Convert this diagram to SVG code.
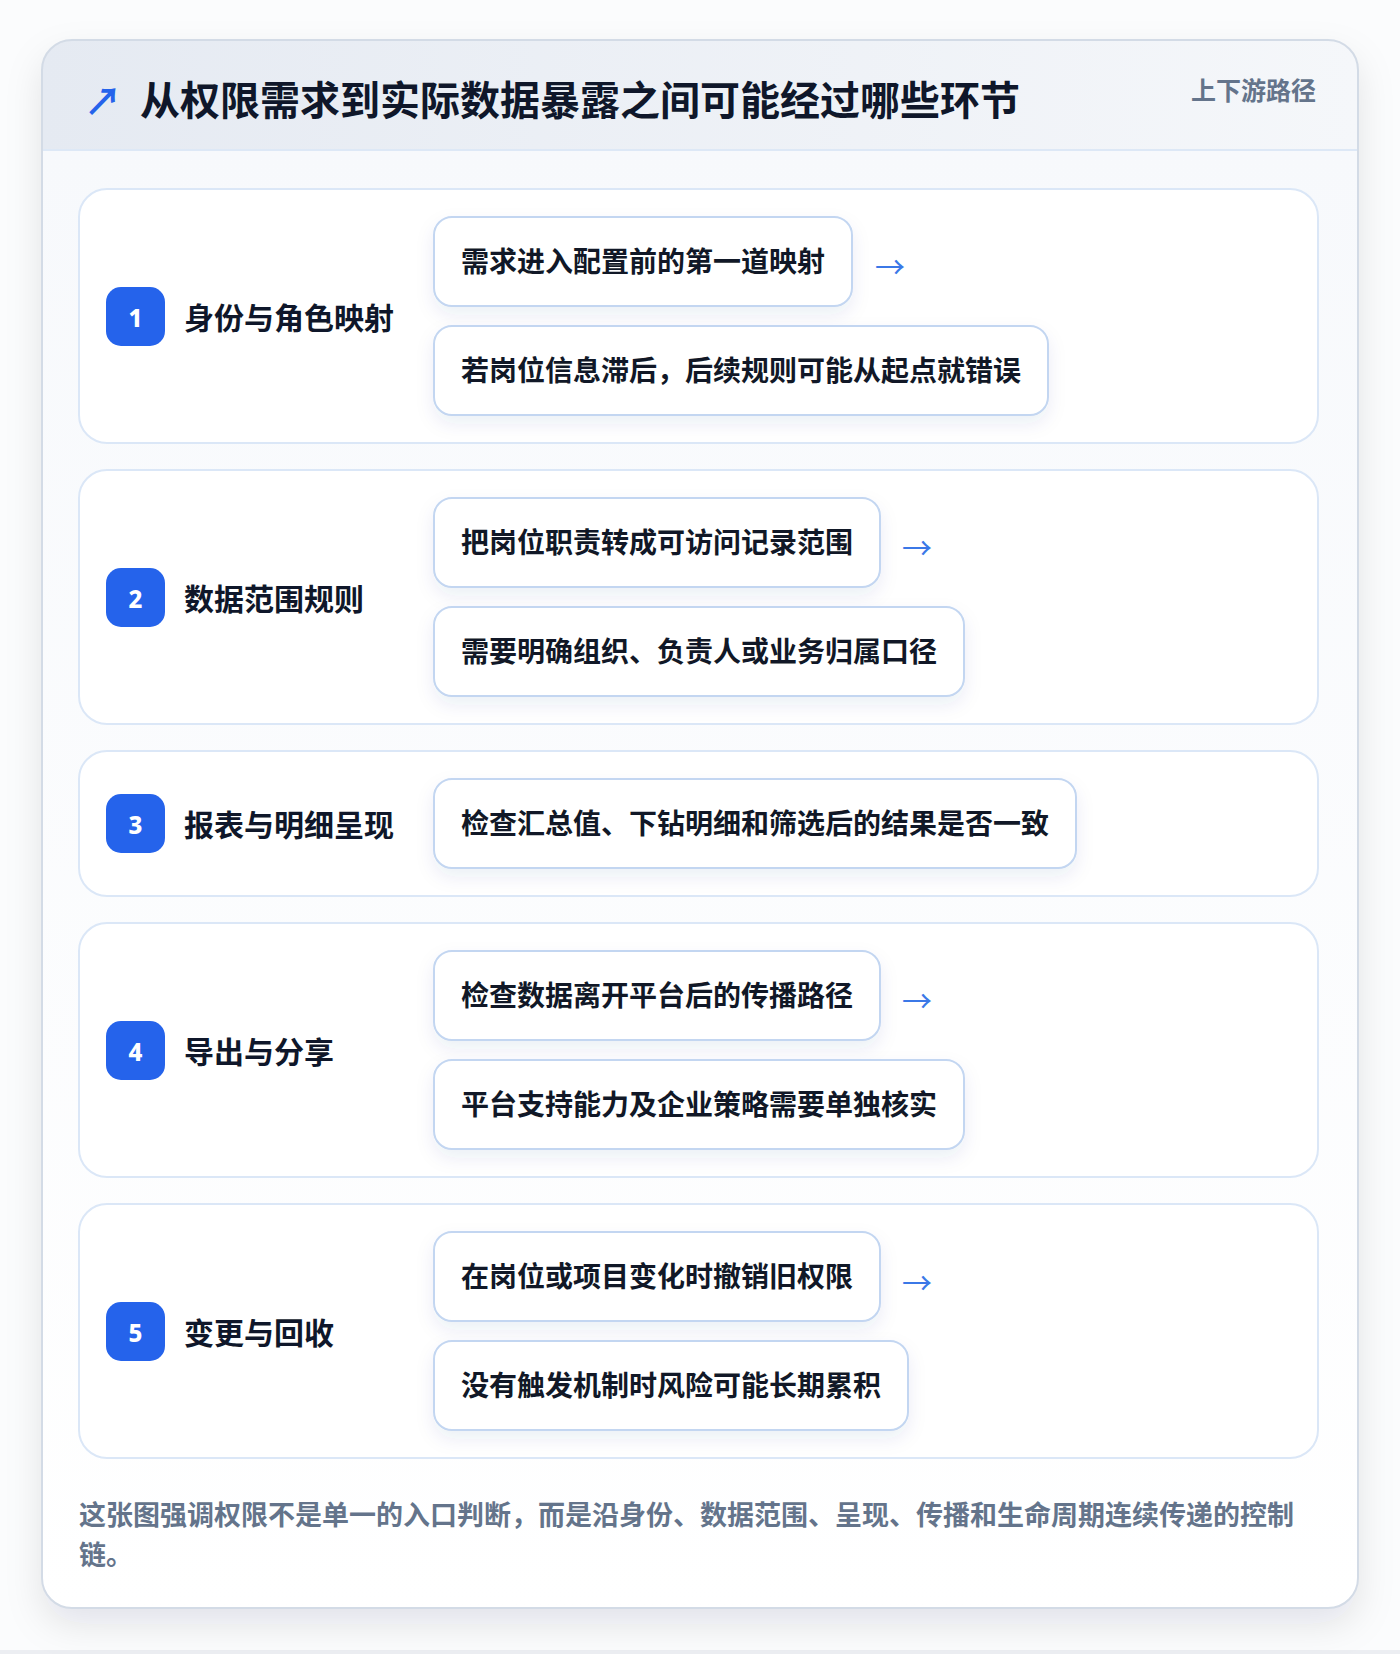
<svg xmlns="http://www.w3.org/2000/svg" width="1400" height="1654" viewBox="0 0 1400 1654">
<defs>
<linearGradient id="hdr" x1="0" y1="0" x2="1" y2="0">
<stop offset="0" stop-color="#e5eaf2"/>
<stop offset="1" stop-color="#f5f7fa"/>
</linearGradient>
<linearGradient id="body" x1="0" y1="0" x2="0" y2="1">
<stop offset="0" stop-color="#f7f9fc"/>
<stop offset="1" stop-color="#ffffff"/>
</linearGradient>
<filter id="cardSh" x="-10%" y="-10%" width="120%" height="120%">
<feDropShadow dx="0" dy="16" stdDeviation="18" flood-color="#0f172a" flood-opacity="0.10"/>
</filter>
<filter id="pillSh" x="-10%" y="-30%" width="120%" height="180%">
<feDropShadow dx="0" dy="8" stdDeviation="9" flood-color="#1e3a8a" flood-opacity="0.08"/>
</filter>
<clipPath id="cardClip"><rect x="42" y="40" width="1316" height="1568" rx="30"/></clipPath>
</defs>
<style>
text{font-family:"Noto Sans CJK SC","Noto Sans",sans-serif;font-weight:700;dominant-baseline:central}
.sec{fill:#ffffff;stroke:#dbe7f7;stroke-width:2}
.pill{fill:#ffffff;stroke:#c3d6f1;stroke-width:2;filter:url(#pillSh)}
.pt{font-size:28px;fill:#111827}
.lbl{font-size:30px;fill:#0f172a}
.badge{fill:#2563eb}
.bt{font-size:24px;fill:#ffffff;text-anchor:middle;font-family:"Noto Sans","DejaVu Sans",sans-serif;font-weight:800}
.arr{font-size:30px;fill:#3b78e7;font-weight:400}
</style>
<rect x="0" y="0" width="1400" height="1654" fill="#fbfcfd"/>
<rect x="0" y="1650" width="1400" height="4" fill="#eceef2"/>
<g id="card">
<rect x="42" y="40" width="1316" height="1568" rx="30" fill="#f8fafc" filter="url(#cardSh)"/>
<g clip-path="url(#cardClip)">
<rect x="42" y="150" width="1316" height="1460" fill="url(#body)"/>
<rect x="42" y="40" width="1316" height="110" fill="url(#hdr)"/>
</g>
<line x1="42" y1="150" x2="1358" y2="150" stroke="#dde8f6" stroke-width="2"/>
<rect x="42" y="40" width="1316" height="1568" rx="30" fill="none" stroke="#d3dbe6" stroke-width="2"/>
</g>
<g id="header">
<text x="84" y="98" font-size="38" fill="#2563eb" font-weight="700">↗</text>
<text x="140" y="98" font-size="40" fill="#0f172a">从权限需求到实际数据暴露之间可能经过哪些环节</text>
<text x="1316" y="89" font-size="25" fill="#64748b" text-anchor="end">上下游路径</text>
</g>
<g id="step1">
<rect class="sec" x="79" y="189" width="1239" height="254" rx="28"/>
<rect class="badge" x="106" y="287" width="59" height="59" rx="15"/>
<text class="bt" x="135.5" y="317">1</text>
<text class="lbl" x="184" y="316">身份与角色映射</text>
<rect class="pill" x="434" y="217" width="418" height="89" rx="18"/>
<text class="pt" x="461" y="260">需求进入配置前的第一道映射</text>
<rect class="pill" x="434" y="326" width="614" height="89" rx="18"/>
<text class="pt" x="461" y="369">若岗位信息滞后，后续规则可能从起点就错误</text>
</g>
<g id="step2">
<rect class="sec" x="79" y="470" width="1239" height="254" rx="28"/>
<rect class="badge" x="106" y="568" width="59" height="59" rx="15"/>
<text class="bt" x="135.5" y="598">2</text>
<text class="lbl" x="184" y="597">数据范围规则</text>
<rect class="pill" x="434" y="498" width="446" height="89" rx="18"/>
<text class="pt" x="461" y="541">把岗位职责转成可访问记录范围</text>
<rect class="pill" x="434" y="607" width="530" height="89" rx="18"/>
<text class="pt" x="461" y="650">需要明确组织、负责人或业务归属口径</text>
</g>
<g id="step3">
<rect class="sec" x="79" y="751" width="1239" height="145" rx="28"/>
<rect class="badge" x="106" y="794" width="59" height="59" rx="15"/>
<text class="bt" x="135.5" y="824">3</text>
<text class="lbl" x="184" y="823">报表与明细呈现</text>
<rect class="pill" x="434" y="779" width="642" height="89" rx="18"/>
<text class="pt" x="461" y="822">检查汇总值、下钻明细和筛选后的结果是否一致</text>
</g>
<g id="step4">
<rect class="sec" x="79" y="923" width="1239" height="254" rx="28"/>
<rect class="badge" x="106" y="1021" width="59" height="59" rx="15"/>
<text class="bt" x="135.5" y="1051">4</text>
<text class="lbl" x="184" y="1050">导出与分享</text>
<rect class="pill" x="434" y="951" width="446" height="89" rx="18"/>
<text class="pt" x="461" y="994">检查数据离开平台后的传播路径</text>
<rect class="pill" x="434" y="1060" width="530" height="89" rx="18"/>
<text class="pt" x="461" y="1103">平台支持能力及企业策略需要单独核实</text>
</g>
<g id="step5">
<rect class="sec" x="79" y="1204" width="1239" height="254" rx="28"/>
<rect class="badge" x="106" y="1302" width="59" height="59" rx="15"/>
<text class="bt" x="135.5" y="1332">5</text>
<text class="lbl" x="184" y="1331">变更与回收</text>
<rect class="pill" x="434" y="1232" width="446" height="89" rx="18"/>
<text class="pt" x="461" y="1275">在岗位或项目变化时撤销旧权限</text>
<rect class="pill" x="434" y="1341" width="474" height="89" rx="18"/>
<text class="pt" x="461" y="1384">没有触发机制时风险可能长期累积</text>
</g>
<g id="connectors">
<text class="arr" x="875" y="265">→</text>
<text class="arr" x="902" y="546">→</text>
<text class="arr" x="902" y="999">→</text>
<text class="arr" x="902" y="1281">→</text>
</g>
<g id="footer">
<text x="79" y="1513" font-size="27" fill="#64748b">这张图强调权限不是单一的入口判断，而是沿身份、数据范围、呈现、传播和生命周期连续传递的控制</text>
<text x="79" y="1553" font-size="27" fill="#64748b">链。</text>
</g>
</svg>
